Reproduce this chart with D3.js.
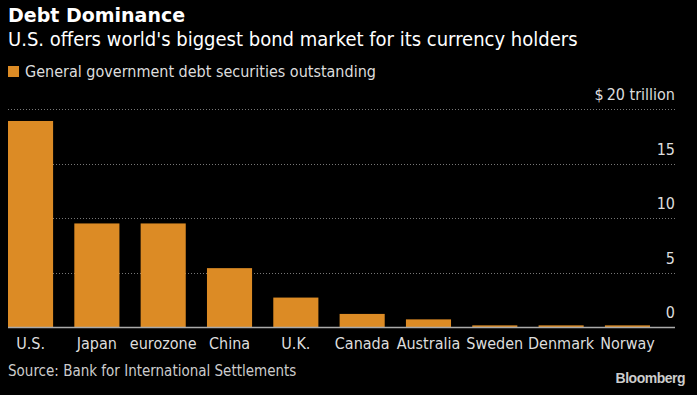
<!DOCTYPE html>
<html>
<head>
<meta charset="utf-8">
<script src="https://cdn.jsdelivr.net/npm/d3@7"></script>
<style>
  body { margin: 0; background: #000; }
  text { font-family: "DejaVu Sans Condensed", "DejaVu Sans", sans-serif; }
</style>
</head>
<body>
<svg id="chart" width="697" height="395"></svg>
<script>
// chart data
var countries = ["U.S.", "Japan", "eurozone", "China", "U.K.", "Canada", "Australia", "Sweden", "Denmark", "Norway"];
var debt = [18.9, 9.5, 9.5, 5.4, 2.7, 1.2, 0.7, 0.15, 0.15, 0.15];
var yTicks = [0, 5, 10, 15, 20];
var yTickLabels = ["0", "5", "10", "15", "$\u200920  trillion"];

var svg = d3.select("#chart");
svg.append("rect").attr("width", 697).attr("height", 395).attr("fill", "#000");

var x = d3.scaleBand().domain(countries).range([8, 650]).paddingInner(0.32).paddingOuter(0);
var y = d3.scaleLinear().domain([0, 20]).range([327, 109]);

// titles
svg.append("text").attr("x", 8).attr("y", 22)
    .attr("fill", "#fff").attr("font-size", 19).attr("font-weight", "bold")
    .style("font-family", "'DejaVu Sans', sans-serif")
    .text("Debt Dominance");
svg.append("text").attr("x", 8).attr("y", 46)
    .attr("fill", "#fff").attr("font-size", 20)
    .text("U.S. offers world's biggest bond market for its currency holders");

// legend
svg.append("rect").attr("x", 8).attr("y", 66).attr("width", 11).attr("height", 11).attr("fill", "#dc8b25");
svg.append("text").attr("x", 25).attr("y", 77)
    .attr("fill", "#ddd").attr("font-size", 16)
    .text("General government debt securities outstanding");

// gridlines + labels
var grid = svg.append("g");
grid.selectAll("line").data(yTicks.filter(function(d){ return d > 0; }))
    .enter().append("line")
    .attr("x1", 8).attr("x2", 675)
    .attr("y1", function(d){ return Math.round(y(d)) + 0.5; })
    .attr("y2", function(d){ return Math.round(y(d)) + 0.5; })
    .attr("stroke", "#777").attr("stroke-width", 1)
    .attr("stroke-dasharray", "1,2");

grid.selectAll("text").data(yTicks)
    .enter().append("text")
    .attr("x", 675).attr("y", function(d){ return y(d) - 9; })
    .attr("text-anchor", "end")
    .attr("fill", "#ddd").attr("font-size", 16)
    .text(function(d, i){ return yTickLabels[i]; });

// bars
svg.append("g").selectAll("rect").data(debt)
    .enter().append("rect")
    .attr("x", function(d, i){ return x(countries[i]); })
    .attr("y", function(d){ return y(d); })
    .attr("width", x.bandwidth())
    .attr("height", function(d){ return y(0) - y(d); })
    .attr("fill", "#dc8b25");

// baseline
svg.append("line").attr("x1", 8).attr("x2", 675)
    .attr("y1", 327.5).attr("y2", 327.5)
    .attr("stroke", "#aaa").attr("stroke-width", 1.5);

// x labels
svg.append("g").selectAll("text").data(countries)
    .enter().append("text")
    .attr("x", function(d){ return x(d) + x.bandwidth() / 2; })
    .attr("y", 349)
    .attr("text-anchor", "middle")
    .attr("fill", "#ddd").attr("font-size", 16)
    .text(function(d){ return d; });

// footer
svg.append("text").attr("x", 8).attr("y", 376)
    .attr("fill", "#ccc").attr("font-size", 15)
    .text("Source: Bank for International Settlements");
svg.append("text").attr("x", 685).attr("y", 383)
    .attr("text-anchor", "end")
    .attr("fill", "#ccc").attr("font-size", 14).attr("font-weight", "bold")
    .style("font-family", "'Liberation Sans', Arial, sans-serif")
    .style("letter-spacing", "-0.5px")
    .text("Bloomberg");
</script>
</body>
</html>
